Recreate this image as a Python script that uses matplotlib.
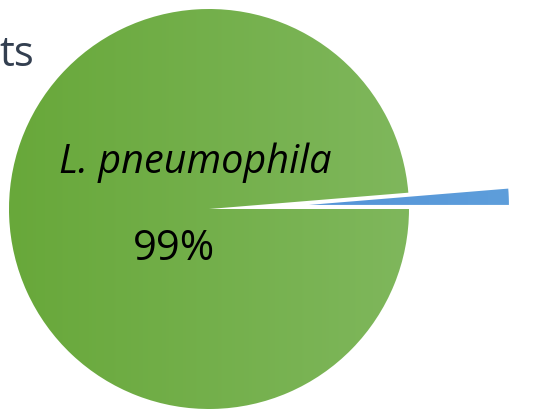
import numpy as np
import matplotlib
matplotlib.use('Agg')
import matplotlib.pyplot as plt
from matplotlib.colors import LinearSegmentedColormap

labels = ['L. pneumophila', 'Other']
values = [98.7, 1.3]
pct_text = ['99%', '']
explode_frac = [0, 0.5]
# left -> right shading for each slice
grad = [('#68a83a', '#7fb75c'), ('#4a8ad4', '#5e9edb')]

fig = plt.figure(figsize=(5.4, 4.11), dpi=100)
ax = fig.add_axes([0, 0, 1, 1])

cx, cy, r = 209, 202, 200
# pie takes explode in data units once a radius is given
wedges, _ = ax.pie(values, explode=[e * r for e in explode_frac],
                   startangle=0, counterclock=False,
                   center=(cx, cy), radius=r, frame=True)
ax.set_aspect('equal')
ax.axis('off')

# fill each wedge with a horizontal gradient
for w, (c0, c1) in zip(wedges, grad):
    w.set_facecolor('none')
    w.set_edgecolor('none')
    cmap = LinearSegmentedColormap.from_list('g', [c0, c1])
    tc = w.center
    x0, x1 = tc[0] - r, tc[0] + r
    y0, y1 = tc[1] - r, tc[1] + r
    img = ax.imshow(np.linspace(0, 1, 256).reshape(1, -1), cmap=cmap,
                    extent=(x0, x1, y0, y1), aspect='auto', zorder=1)
    img.set_clip_path(w)

ax.set_xlim(0, 540)
ax.set_ylim(0, 411)

ax.text(195, 411 - 163, labels[0], ha='center', va='center', fontsize=28.5,
        style='italic', family='Open Sans', color='black', zorder=3)
ax.text(174, 411 - 249, pct_text[0], ha='center', va='center', fontsize=30,
        family='Open Sans', color='black', zorder=3)

ax.text(-1, 411 - 55, 'ts', ha='left', va='center',
        fontsize=30, family='Open Sans', color='#333f50')

fig.savefig('out.png', dpi=100)
